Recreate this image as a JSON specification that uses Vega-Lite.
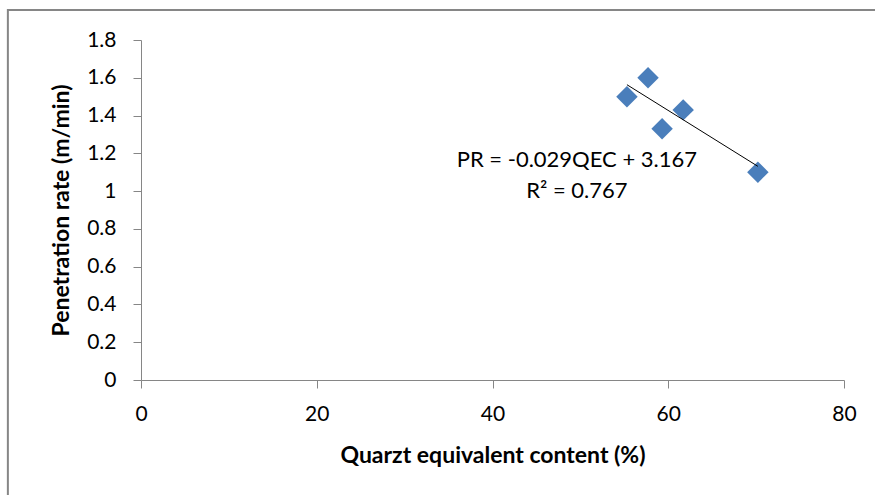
{
  "$schema": "https://vega.github.io/schema/vega-lite/v6.json",
  "width": 703,
  "height": 340,
  "autosize": {"type": "none"},
  "padding": {"left": 141, "top": 40, "right": 31, "bottom": 115},
  "background": "white",
  "config": {
    "view": {"stroke": null},
    "font": "Lato",
    "axis": {"grid": false, "domainColor": "#868686", "tickColor": "#868686", "labelColor": "#000000", "titleColor": "#000000", "labelFont": "Lato", "titleFont": "Lato", "labelFontSize": 21, "titleFontSize": 23, "titleFontWeight": "bold", "tickSize": 8, "labelFontWeight": "normal", "labelOverlap": false, "labelFlush": false}
  },
  "datasets": {
    "points": [
      {"qec": 55.3, "pr": 1.5},
      {"qec": 57.7, "pr": 1.6},
      {"qec": 59.3, "pr": 1.33},
      {"qec": 61.7, "pr": 1.43},
      {"qec": 70.2, "pr": 1.1}
    ],
    "trend": [
      {"qec": 55.3, "pr": 1.5633},
      {"qec": 70.2, "pr": 1.1312}
    ],
    "labels": [
      {"qec": 49.6, "pr": 1.165, "text": "PR = -0.029QEC + 3.167"},
      {"qec": 49.6, "pr": 1.0, "text": "R² = 0.767"}
    ],
    "frame": [
      {"qec": -15.15, "qec2": 100, "pr": 1.959, "pr2": -2}
    ]
  },
  "encoding": {
    "x": {"field": "qec", "type": "quantitative", "scale": {"domain": [0, 80], "nice": false, "zero": false},
      "axis": {"values": [0, 20, 40, 60, 80], "title": "Quarzt equivalent content (%)", "labelPadding": 15, "titlePadding": 20}},
    "y": {"field": "pr", "type": "quantitative", "scale": {"domain": [0, 1.8], "nice": false, "zero": false},
      "axis": {"values": [0, 0.2, 0.4, 0.6, 0.8, 1, 1.2, 1.4, 1.6, 1.8], "title": "Penetration rate (m/min)", "labelPadding": 17, "titlePadding": 13, "labelExpr": "datum.value == 0 ? '0' : format(datum.value, '.1~f')"}}
  },
  "layer": [
    {
      "data": {"name": "frame"},
      "mark": {"type": "rect", "fill": null, "stroke": "#868686", "strokeWidth": 2, "clip": false},
      "encoding": {
        "x2": {"field": "qec2"},
        "y2": {"field": "pr2"}
      }
    },
    {
      "data": {"name": "points"},
      "mark": {"type": "point", "shape": "diamond", "filled": true, "size": 460, "color": "#4A7EBB", "opacity": 1}
    },
    {
      "data": {"name": "trend"},
      "mark": {"type": "line", "color": "#000000", "strokeWidth": 1},
      "encoding": {}
    },
    {
      "data": {"name": "labels"},
      "mark": {"type": "text", "font": "Lato", "fontSize": 22, "color": "#000000", "align": "center", "baseline": "middle"},
      "encoding": {
        "text": {"field": "text"}
      }
    }
  ]
}
